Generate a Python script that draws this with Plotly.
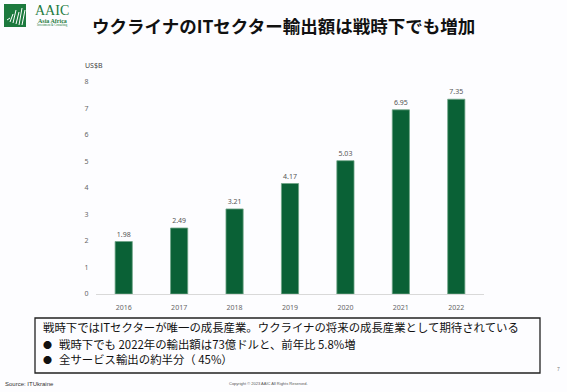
import plotly.graph_objects as go

# ---- data ----
years = ["2016", "2017", "2018", "2019", "2020", "2021", "2022"]
exports_usd_bn = [1.98, 2.49, 3.21, 4.17, 5.03, 6.95, 7.35]
y_ticks = [0, 1, 2, 3, 4, 5, 6, 7, 8]
value_labels = [f"{v:.2f}" for v in exports_usd_bn]

title_text = "ウクライナのITセクター輸出額は戦時下でも増加"
unit_label = "US$B"
box_line1 = "戦時下ではITセクターが唯一の成長産業。ウクライナの将来の成長産業として期待されている"
box_bullets = ["戦時下でも 2022年の輸出額は73億ドルと、前年比 5.8%増", "全サービス輸出の約半分（ 45%）"]
source_text = "Source: ITUkraine"
copyright_text = "Copyright © 2023 AAIC All Rights Reserved."
page_no = "7"

# ---- layout geometry (pixels) ----
W, H = 567, 392
L, R, T, B = 96, 83, 82, 98
PW, PH = W - L - R, H - T - B


def px(x):
    return (x - L) / PW


def py(y):
    return 1 - (y - T) / PH


JP = "Noto Sans CJK JP"
GREEN = "#0a6136"
BG = "#fdfdff"

fig = go.Figure(
    go.Bar(
        x=years,
        y=exports_usd_bn,
        width=0.31,
        marker=dict(color=GREEN, line=dict(color="#6fa586", width=0.8)),
        text=value_labels,
        textposition="outside",
        textfont=dict(size=7, color="#555555", family="Noto Sans"),
        cliponaxis=False,
        hoverinfo="skip",
    )
)

fig.update_layout(
    width=W,
    height=H,
    margin=dict(l=L, r=R, t=T, b=B, pad=0),
    paper_bgcolor=BG,
    plot_bgcolor=BG,
    showlegend=False,
    font=dict(family=JP),
)
fig.update_xaxes(
    showgrid=False,
    showline=True,
    linecolor="#d9d9d9",
    linewidth=1,
    ticks="outside",
    ticklen=7,
    tickcolor="rgba(0,0,0,0)",
    tickfont=dict(size=7, color="#666666", family="Noto Sans"),
    range=[-0.5, 6.5],
    fixedrange=True,
)
fig.update_yaxes(
    range=[0, 8],
    tickvals=y_ticks,
    showgrid=False,
    zeroline=False,
    showline=False,
    ticks="outside",
    ticklen=5,
    tickcolor="rgba(0,0,0,0)",
    tickfont=dict(size=7, color="#666666", family="Noto Sans"),
    fixedrange=True,
)

anns = []
shapes = []

# title
anns.append(dict(x=px(283), y=py(25), xref="paper", yref="paper", text=f"<b>{title_text}</b>",
                 showarrow=False, font=dict(size=17.5, color="#111111", family=JP),
                 xanchor="center", yanchor="middle"))
# unit label
anns.append(dict(x=px(83), y=py(65), xref="paper", yref="paper", text=unit_label,
                 showarrow=False, font=dict(size=7, color="#444444", family="Noto Sans"),
                 xanchor="left", yanchor="middle"))

# text box
shapes.append(dict(type="rect", xref="paper", yref="paper", x0=px(35), x1=px(540), y0=py(318), y1=py(373),
                   line=dict(color="#222222", width=1.3), fillcolor="rgba(0,0,0,0)"))
anns.append(dict(x=px(41), y=py(327), xref="paper", yref="paper", text=box_line1,
                 showarrow=False, font=dict(size=11.4, color="#111111", family=JP),
                 xanchor="left", yanchor="middle"))
for i, t in enumerate(box_bullets):
    yy = 344 + i * 15
    anns.append(dict(x=px(41), y=py(yy), xref="paper", yref="paper", text="●",
                     showarrow=False, font=dict(size=9, color="#111111", family=JP),
                     xanchor="left", yanchor="middle"))
    anns.append(dict(x=px(57), y=py(yy), xref="paper", yref="paper", text=t,
                     showarrow=False, font=dict(size=11.4, color="#111111", family=JP),
                     xanchor="left", yanchor="middle"))

# footer
anns.append(dict(x=px(3), y=py(384), xref="paper", yref="paper", text=source_text,
                 showarrow=False, font=dict(size=6, color="#333333", family="Liberation Sans"),
                 xanchor="left", yanchor="middle"))
anns.append(dict(x=px(268), y=py(383), xref="paper", yref="paper", text=copyright_text,
                 showarrow=False, font=dict(size=4, color="#555555", family="Liberation Sans"),
                 xanchor="center", yanchor="middle"))
anns.append(dict(x=px(558), y=py(369), xref="paper", yref="paper", text=page_no,
                 showarrow=False, font=dict(size=5, color="#777777", family="Liberation Sans"),
                 xanchor="center", yanchor="middle"))

# logo
LOGO = "#1d7a3e"
shapes.append(dict(type="rect", xref="paper", yref="paper", x0=px(4), x1=px(26), y0=py(27), y1=py(4),
                   line=dict(width=0), fillcolor=LOGO))
wave = [(7, 18, 20), (10, 14, 22), (13, 10, 23), (16, 12, 24), (19, 8, 25), (22, 10, 25)]
for xw, ytop, ybot in wave:
    shapes.append(dict(type="line", xref="paper", yref="paper", x0=px(xw), x1=px(xw + 3),
                       y0=py(ybot), y1=py(ytop), line=dict(color="white", width=1)))
anns.append(dict(x=px(52), y=py(10), xref="paper", yref="paper", text="AAIC",
                 showarrow=False, font=dict(size=14, color=LOGO, family="Liberation Serif"),
                 xanchor="center", yanchor="middle"))
anns.append(dict(x=px(52), y=py(20.5), xref="paper", yref="paper", text="<b>Asia Africa</b>",
                 showarrow=False, font=dict(size=6, color=LOGO, family="Liberation Serif"),
                 xanchor="center", yanchor="middle"))
anns.append(dict(x=px(52), y=py(25.5), xref="paper", yref="paper", text="Investment &amp; Consulting",
                 showarrow=False, font=dict(size=3, color=LOGO, family="Liberation Serif"),
                 xanchor="center", yanchor="middle"))

fig.update_layout(annotations=anns, shapes=shapes)
fig.write_html(
    "out.html",
    config={"displayModeBar": False},
    post_script="document.body.style.margin='0px';document.body.style.overflow='hidden';",
)
